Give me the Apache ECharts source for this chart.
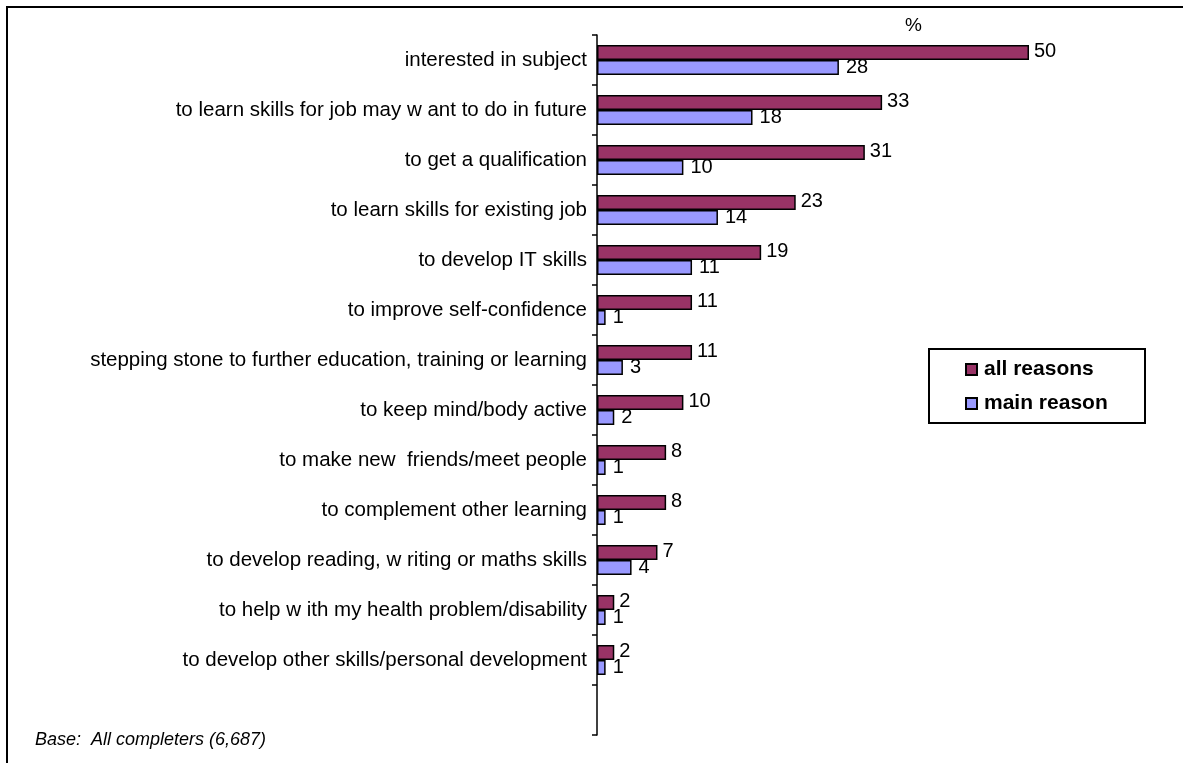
<!DOCTYPE html>
<html>
<head>
<meta charset="utf-8">
<script src="https://cdn.jsdelivr.net/npm/echarts@6/dist/echarts.min.js"></script>
<style>
html,body{margin:0;padding:0;background:#fff;}
#chart{width:1183px;height:763px;}
</style>
</head>
<body>
<div id="chart"></div>
<script>
const categories = [
  "interested in subject",
  "to learn skills for job may w ant to do in future",
  "to get a qualification",
  "to learn skills for existing job",
  "to develop IT skills",
  "to improve self-confidence",
  "stepping stone to further education, training or learning",
  "to keep mind/body active",
  "to make new  friends/meet people",
  "to complement other learning",
  "to develop reading, w riting or maths skills",
  "to help w ith my health problem/disability",
  "to develop other skills/personal development",
  ""
];
const allReasons = [50, 33, 31, 23, 19, 11, 11, 10, 8, 8, 7, 2, 2];
const mainReason = [28, 18, 10, 14, 11, 1, 3, 2, 1, 1, 4, 1, 1];
const seriesNames = ["all reasons", "main reason"];
const unitLabel = "%";
const baseNote = "Base:  All completers (6,687)";

const FONT = "Liberation Sans, Arial, sans-serif";
const chart = echarts.init(document.getElementById('chart'));
chart.setOption({
  animation: false,
  backgroundColor: '#fff',
  grid: { left: 597, top: 35, width: 432, height: 700, containLabel: false },
  xAxis: {
    type: 'value', min: 0, max: 50, show: false
  },
  yAxis: {
    type: 'category', data: categories, inverse: true,
    axisLine: { lineStyle: { color: '#000', width: 1.5 } },
    axisTick: { show: true, inside: false, length: 5, interval: 0, lineStyle: { color: '#000', width: 1.5 } },
    axisLabel: { color: '#000', fontSize: 20.5, fontFamily: FONT, margin: 10, interval: 0 }
  },
  legend: {
    orient: 'vertical', left: 960, top: 354,
    data: seriesNames,
    itemWidth: 11, itemHeight: 11, itemGap: 13, icon: 'rect',
    textStyle: { fontSize: 21, fontWeight: 'bold', fontFamily: FONT, color: '#000', padding: [0, 0, 0, 2] }
  },
  graphic: [
    { type: 'rect', shape: { x: 7, y: 7, width: 1300, height: 900 }, style: { fill: null, stroke: '#000', lineWidth: 2 }, silent: true },
    { type: 'rect', shape: { x: 929, y: 349, width: 216, height: 74 }, style: { fill: null, stroke: '#000', lineWidth: 2 }, silent: true, z: 10 },
    { type: 'text', left: 905, top: 16, style: { text: unitLabel, fontSize: 19, fontFamily: FONT, fill: '#000' } },
    { type: 'text', left: 35, top: 731, style: { text: baseNote, fontSize: 18, fontStyle: 'italic', fontFamily: FONT, fill: '#000' } }
  ],
  series: [
    {
      name: seriesNames[0], type: 'bar', data: allReasons,
      barCategoryGap: '40%', barGap: '0%',
      itemStyle: { color: '#993366', borderColor: '#000', borderWidth: 1.5 },
      label: { show: true, position: 'right', distance: 5, offset: [0, -1], color: '#000', fontSize: 20, fontFamily: FONT }
    },
    {
      name: seriesNames[1], type: 'bar', data: mainReason,
      barCategoryGap: '40%', barGap: '0%',
      itemStyle: { color: '#9999FF', borderColor: '#000', borderWidth: 1.5 },
      label: { show: true, position: 'right', distance: 7, offset: [0, 0], color: '#000', fontSize: 20, fontFamily: FONT }
    }
  ]
});
</script>
</body>
</html>
